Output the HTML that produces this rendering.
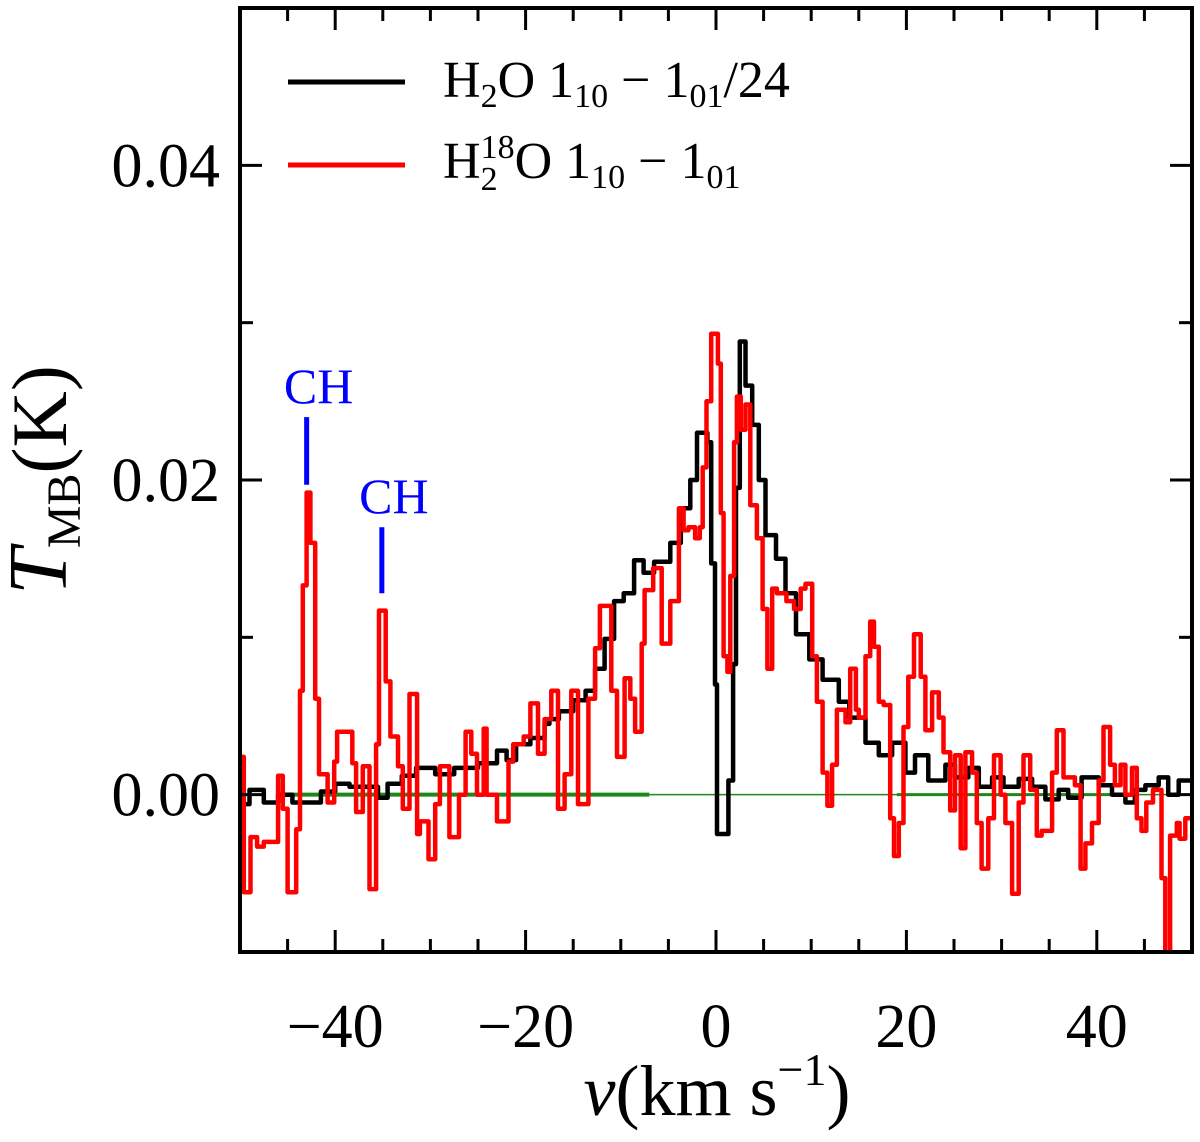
<!DOCTYPE html>
<html><head><meta charset="utf-8">
<style>
html,body{margin:0;padding:0;background:#fff;}
svg{display:block;font-family:"Liberation Serif",serif;}
</style></head>
<body>
<svg id="chart" width="1200" height="1142" viewBox="0 0 1200 1142" xmlns="http://www.w3.org/2000/svg">
<g id="plot"></g>
<g id="axes"></g>
<g id="legend">
  <line x1="288" y1="82" x2="405" y2="82" stroke="#000" stroke-width="5"/>
  <text x="443" y="97" font-size="52">H<tspan font-size="34" dy="10">2</tspan><tspan dy="-10">O 1</tspan><tspan font-size="34" dy="10">10</tspan><tspan dy="-10"> − 1</tspan><tspan font-size="34" dy="10">01</tspan><tspan dy="-10">/24</tspan></text>
  <line x1="288" y1="165" x2="405" y2="165" stroke="#f00" stroke-width="5"/>
  <text x="443" y="178" font-size="52">H<tspan font-size="34" dy="-20">18</tspan><tspan font-size="34" dx="-34" dy="32">2</tspan><tspan dx="17" dy="-12">O 1</tspan><tspan font-size="34" dy="10">10</tspan><tspan dy="-10"> − 1</tspan><tspan font-size="34" dy="10">01</tspan></text>
</g>
<text transform="translate(66,480) rotate(-90)" text-anchor="middle" font-size="78"><tspan font-style="italic" font-size="84">T</tspan><tspan font-size="48" dy="14">MB</tspan><tspan dy="-14">(K)</tspan></text>
<text x="717" y="1115" text-anchor="middle" font-size="72"><tspan font-style="italic">v</tspan>(km s<tspan font-size="46" dy="-30">−1</tspan><tspan dy="30">)</tspan></text>
</svg>
<script>
// velocity channel edges (km/s) and values (mK)
const blackEdges = [-50,-49,-47.5,-46,-44.5,-41.5,-40,-38.5,-35.5,-34.5,-33,-31.5,-29.5,-27.5,-25,-23,-22,-21,-19.5,-18,-17.5,-16.5,-15,-13.7,-12.7,-11.7,-10.7,-9.7,-8.6,-7.6,-6.5,-4.8,-3.7,-2.7,-2.0,-0.9,-0.5,-0.1,0.1,1.3,1.8,2.1,2.5,3.1,3.8,4.5,5.2,6.3,7.3,8.4,9.8,11.2,12.9,14.0,15.7,17.1,18.5,19.9,20.9,22.3,24.1,25.1,26.5,27.6,29.0,30.2,31.8,33.2,34.6,36.0,37.0,38.4,40.2,41.6,43.0,44.0,45.1,46.5,47.5,48.6];
const blackVals  = [-0.6,0.3,-0.5,0,-0.5,0.2,0.7,0.5,-0.2,0.7,1.2,1.7,1.3,1.7,2.0,2.8,2.2,3.2,3.6,4.5,4.8,5.3,6.0,6.6,8.0,9.9,12.3,12.8,14.9,14.1,14.8,16.0,18.2,20.0,23.0,22.4,14.7,7.0,-2.5,0.9,8.3,19.5,28.8,26.0,23.5,20.0,16.5,15.0,12.8,10.2,8.6,7.3,5.9,4.9,3.3,2.5,3.3,1.4,2.5,0.9,1.9,1.1,1.7,0.5,1.1,0.5,1.0,0.5,-0.3,0.3,-0.2,1.1,0.6,0,-0.5,0.3,0.6,1.1,0,0.9];
const redEdges = [-50,-49.6,-48.9,-48.2,-47.5,-46.0,-45.5,-45.0,-44.1,-43.7,-43.4,-43.0,-42.6,-42.1,-41.7,-40.8,-40.1,-39.8,-38.2,-37.8,-37.1,-36.4,-35.7,-35.4,-34.7,-34.2,-33.4,-32.9,-32.2,-31.4,-31.1,-30.2,-29.5,-29.0,-28.0,-27.0,-26.3,-25.7,-25.1,-24.4,-24.1,-23.0,-21.8,-21.3,-20.2,-19.5,-18.7,-18.0,-17.3,-16.6,-15.9,-15.2,-14.5,-13.4,-12.7,-12.2,-11.0,-10.4,-9.6,-9.0,-8.5,-7.8,-7.5,-6.6,-5.7,-4.8,-3.9,-3.4,-2.9,-2.2,-1.7,-1.4,-1.0,-0.5,0.2,0.5,0.8,1.2,1.5,1.9,2.2,2.6,3.1,3.6,4.3,4.9,5.4,5.9,6.4,7.4,8.2,8.9,9.4,10.1,10.6,11.2,11.7,12.2,12.7,13.6,14.1,14.7,15.0,15.7,16.2,16.6,17.1,17.6,18.3,18.7,19.2,19.7,20.2,20.8,21.5,22.0,22.7,23.4,23.9,24.6,25.1,25.7,26.2,26.9,27.4,27.9,28.6,29.2,29.9,30.4,31.1,31.8,32.3,33.0,33.7,34.2,35.3,35.8,36.5,37.7,38.3,38.8,39.5,40.2,40.7,41.4,41.9,42.5,43.0,43.7,44.2,44.7,45.2,45.9,46.8,47.2,47.7,48.4,48.7,49.3];
const redVals  = [2.4,-6.2,-2.7,-3.3,-3,1.2,-0.9,-6.2,-2.2,6.6,13.3,19.2,16,6.1,1.3,-0.5,2.1,4,2,-1.1,1.8,-6,3.2,11.7,7.2,3.7,1.8,-0.9,6.4,-2.5,-1.7,-4.1,-0.6,1.8,-2.7,0,4,2.6,0,4.2,0,-1.7,2.1,3.2,3.7,5.8,2.6,4.8,6.6,-0.9,1.3,6.6,-0.6,6.1,9.3,12,6.6,2.4,7.4,6.1,4,9.6,13,14.4,9.6,12.3,18.2,16.8,17,16.3,17,20.8,25,29.3,27.4,17.9,8.8,7.8,13.9,22.4,25.3,23.2,24.8,18.4,16.3,11.8,8,13.1,12.8,12.3,11.8,13.1,13.4,8.8,5.9,1.4,-0.7,1.9,5.4,4.6,8,5.4,4.9,8.8,11,9.4,5.9,5.7,-1.5,-3.9,-1.8,4.3,7.5,10.2,7.5,4.1,6.5,4.9,2.7,-1.0,2.5,-3.4,2.7,1.4,-1.8,-4.7,-1.5,2.5,0,-1.8,-6.3,-0.5,2.5,0.3,-2.6,-2.3,1.4,4.1,1.1,0.6,-4.7,-3.1,-1.8,0.9,4.3,1.9,0.6,1.9,0,1.7,-1.5,-2.3,-0.5,0.3,-5.3,-10.5,-2.6,-1.8,-2.8,-1.5];
const xTicks = [-40,-20,0,20,40];
const xTickLabels = ["−40","−20","0","20","40"];
const yTicks = [0,0.02,0.04];
const yTickLabels = ["0.00","0.02","0.04"];
const chLines = [-43.0,-35.1];
const chTop = [0.0240,0.0170];
const chBottom = [0.0197,0.0128];

const L=240,R=1192,T=8,B=952;
const X0=-50,X1=50,Y0=-0.01,Y1=0.05;
const sx=v=>L+(v-X0)/(X1-X0)*(R-L);
const sy=t=>B-(t-Y0)/(Y1-Y0)*(B-T);
const NS="http://www.w3.org/2000/svg";
const plot=document.getElementById('plot');
const axes=document.getElementById('axes');
function mk(tag,attrs,parent){const e=document.createElementNS(NS,tag);for(const k in attrs)e.setAttribute(k,attrs[k]);parent.appendChild(e);return e;}

const defs=mk('defs',{},plot);
const cp=mk('clipPath',{id:'clip'},defs);
mk('rect',{x:L,y:T,width:R-L,height:B-T},cp);
const g=mk('g',{'clip-path':'url(#clip)'},plot);

let z1=mk('line',{x1:sx(-45.5),x2:sx(-7),y1:sy(0),y2:sy(0),stroke:'#1a8a1a','stroke-width':4},g);


let z2=mk('line',{x1:sx(-7),x2:sx(50),y1:sy(0),y2:sy(0),stroke:'#1a8a1a','stroke-width':1.5},g);


let z3=mk('line',{x1:sx(19),x2:sx(43),y1:sy(0),y2:sy(0),stroke:'#1a8a1a','stroke-width':3},g);



function stepPath(edges,vals){
  let d='M'+sx(edges[0]).toFixed(1)+' '+sy(vals[0]/1000).toFixed(1);
  for(let i=0;i<vals.length;i++){
    const xe=i+1<edges.length?edges[i+1]:X1;
    d+=' H'+sx(xe).toFixed(1);
    if(i+1<vals.length)d+=' V'+sy(vals[i+1]/1000).toFixed(1);
  }
  return d;
}
let pb=mk('path',{d:stepPath(blackEdges,blackVals),fill:'none',stroke:'#000','stroke-width':4.5,'stroke-linejoin':'round'},g);


let pr=mk('path',{d:stepPath(redEdges,redVals),fill:'none',stroke:'#f00','stroke-width':4.5,'stroke-linejoin':'round'},g);



for(let i=0;i<chLines.length;i++){
  let l=mk('line',{x1:sx(chLines[i]),x2:sx(chLines[i]),y1:sy(chTop[i]),y2:sy(chBottom[i]),stroke:'#00f','stroke-width':5},plot);
  
  
  let t=mk('text',{x:sx(chLines[i])+12,y:sy(chTop[i])-14,'text-anchor':'middle','font-size':50,fill:'#00f'},plot);
  t.textContent='CH';
  
  
}

let fr=mk('rect',{x:L,y:T,width:R-L,height:B-T,fill:'none',stroke:'#000','stroke-width':4},axes);


for(let v=-45;v<=45;v+=5){
  const major=(v%20===0);
  const len=major?22:13;
  let t1=mk('line',{x1:sx(v),x2:sx(v),y1:B,y2:B-len,stroke:'#000','stroke-width':3},axes);
  
  
  let t2=mk('line',{x1:sx(v),x2:sx(v),y1:T,y2:T+len,stroke:'#000','stroke-width':3},axes);
  
  
}
for(let i=0;i<xTicks.length;i++){
  let t=mk('text',{x:sx(xTicks[i]),y:1047,'text-anchor':'middle','font-size':62},axes);
  t.textContent=xTickLabels[i];
  
  
}
for(let k=-1;k<=4;k++){
  const val=k*0.01;
  if(sy(val)<=T+1||sy(val)>=B-1)continue;
  const major=(k%2===0);
  const len=major?22:13;
  let t1=mk('line',{x1:L,x2:L+len,y1:sy(val),y2:sy(val),stroke:'#000','stroke-width':3},axes);
  
  
  let t2=mk('line',{x1:R,x2:R-len,y1:sy(val),y2:sy(val),stroke:'#000','stroke-width':3},axes);
  
  
}
for(let i=0;i<yTicks.length;i++){
  let t=mk('text',{x:220,y:sy(yTicks[i])+21,'text-anchor':'end','font-size':62},axes);
  t.textContent=yTickLabels[i];
  
  
}
</script>
</body></html>
